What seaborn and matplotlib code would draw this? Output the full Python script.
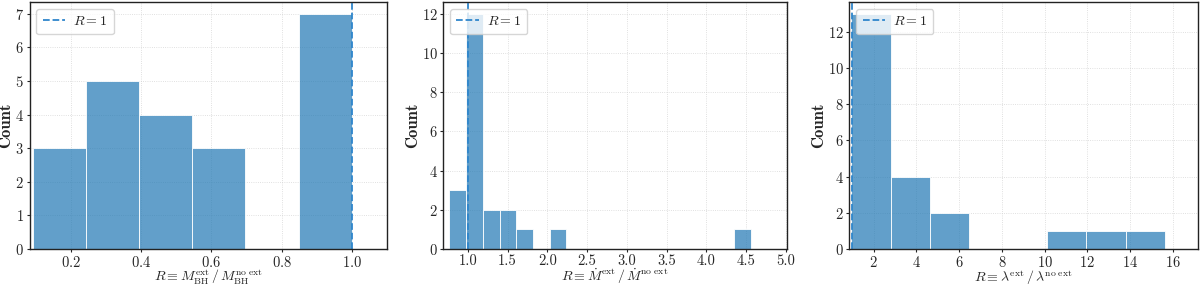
import numpy as np
import matplotlib
matplotlib.use("Agg")
import matplotlib.pyplot as plt
from matplotlib.ticker import MultipleLocator
import seaborn as sns

# ratio samples (22 objects per panel)
r_mass = [0.09, 0.15, 0.20,
          0.26, 0.30, 0.33, 0.36, 0.38,
          0.41, 0.45, 0.48, 0.52,
          0.57, 0.62, 0.67,
          0.88, 0.93, 0.97, 0.99, 1.0, 1.0, 1.0]
r_mdot = [0.768, 0.85, 0.93,
          1.0, 1.0, 1.0, 1.0, 1.01, 1.02, 1.04, 1.06, 1.08, 1.10, 1.13, 1.16,
          1.25, 1.33, 1.45, 1.55, 1.70, 2.10, 4.554]
r_lambda = [0.96, 1.0, 1.0, 1.05, 1.1, 1.2, 1.3, 1.45, 1.6, 1.8, 2.0, 2.3, 2.6,
            3.0, 3.4, 3.9, 4.4,
            5.0, 5.9,
            10.8, 12.9, 15.62]
n_bins = [6, 18, 8]
x_steps = [0.2, 0.5, 2]

xlabels = [r"$R \equiv M_{\rm BH}^{\rm ext}\,/\,M_{\rm BH}^{\rm no\ ext}$",
           r"$R \equiv \dot{M}^{\rm ext}\,/\,\dot{M}^{\rm no\ ext}$",
           r"$R \equiv \lambda^{\rm ext}\,/\,\lambda^{\rm no\ ext}$"]

sns.set_style("ticks")
plt.rcParams["font.family"] = ["cmr10", "DejaVu Serif"]
plt.rcParams["mathtext.fontset"] = "cm"
plt.rcParams["axes.formatter.use_mathtext"] = True
plt.rcParams["axes.unicode_minus"] = False

fig = plt.figure(figsize=(12, 2.86), dpi=100)
lefts = [0.0246, 0.3694, 0.7078]
widths = [0.2977, 0.2862, 0.2906]

for i, (data, nb, xl) in enumerate(zip([r_mass, r_mdot, r_lambda], n_bins, xlabels)):
    ax = fig.add_axes([lefts[i], 0.1294, widths[i], 0.864])
    sns.histplot(x=np.array(data), bins=nb, ax=ax, color="#1f77b4", alpha=0.7,
                 edgecolor="white", linewidth=0.6)
    ax.axvline(1, ls="--", color="#2f86cc", lw=1.3, label=r"$R=1$")
    ax.set_xlim(0.9 * min(data), 1.1 * max(data))
    ax.xaxis.set_major_locator(MultipleLocator(x_steps[i]))
    if i == 1:
        ax.xaxis.set_major_formatter(matplotlib.ticker.FormatStrFormatter("%.1f"))
    ax.grid(True, ls=":", lw=0.6, color="#cccccc", alpha=0.8)
    ax.set_axisbelow(True)
    for s in ax.spines.values():
        s.set_color("#222222")
        s.set_linewidth(1.0)
    ax.tick_params(labelsize=10.5, length=2.5, width=0.8, pad=1.5)
    ax.set_xlabel(xl, fontsize=10, labelpad=-1)
    ax.set_ylabel("Count", fontsize=12, fontfamily="cmb10", labelpad=1)
    ax.legend(loc="upper left", fontsize=10, frameon=True, fancybox=True,
              handlelength=1.6, handletextpad=0.6, borderpad=0.45)

fig.savefig("out.png", dpi=100)
